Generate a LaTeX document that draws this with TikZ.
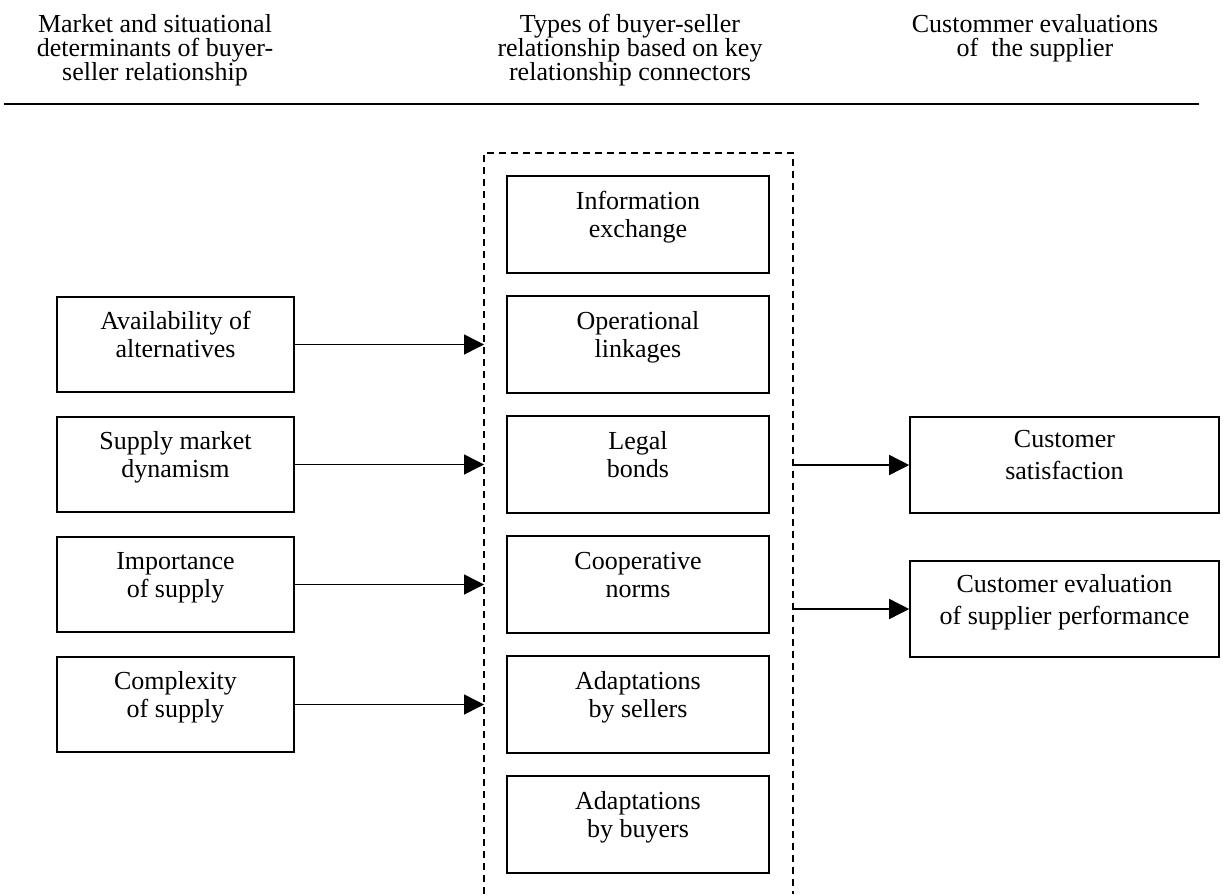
\documentclass[tikz,border=0pt]{standalone}
\usepackage{fontspec}
\setmainfont{Liberation Serif}
\usetikzlibrary{arrows.meta}
\newcommand{\topstrut}{\rule{0pt}{10pt}}
\newcommand{\botstrut}{\rule[-10pt]{0pt}{0pt}}
\begin{document}
\begin{tikzpicture}[x=0.5pt,y=-0.5pt,
  box/.style={draw, line width=0.8pt, inner sep=0pt, align=center, font=\fontsize{13}{14}\selectfont,
    execute at begin node=\topstrut, execute at end node=\botstrut},
  lbox/.style={box, minimum width=118.5pt, minimum height=47.5pt},
  mbox/.style={box, minimum width=131pt, minimum height=48.5pt},
  rbox/.style={box, minimum width=154.5pt, minimum height=48pt, font=\fontsize{13}{16}\selectfont},
  head/.style={anchor=north, inner sep=0pt, align=center, font=\fontsize{13}{12}\selectfont},
  arr/.style={line width=0.75pt, -{Triangle[length=10pt,width=10pt]}},
  dashbox/.style={line width=0.6pt, dash pattern=on 3.5pt off 2.5pt}]
\useasboundingbox (0,0) rectangle (1225,894);
% headers
\node[head] (h1) at (155,14) {Market and situational\\determinants of buyer-\\seller relationship};
\node[head] (h2) at (630,14) {Types of buyer-seller\\relationship based on key\\relationship connectors};
\node[head] (h3) at (1035,14) {Custommer evaluations\\of~ the supplier};
\draw[line width=1pt] (4,104) -- (1199,104);
% dashed container
\draw[dashbox] (484,894) -- (484,153) -- (793,153) -- (793,894);
\coordinate (dl) at (484,0);
\coordinate (dr) at (793,0);
% middle boxes
\node[mbox] (m1) at (638,224.5) {Information\\exchange};
\node[mbox] (m2) at (638,344.5) {Operational\\linkages};
\node[mbox] (m3) at (638,464.5) {Legal\\bonds};
\node[mbox] (m4) at (638,584.5) {Cooperative\\norms};
\node[mbox] (m5) at (638,704.5) {Adaptations\\by sellers};
\node[mbox] (m6) at (638,824.5) {Adaptations\\by buyers};
% left boxes
\node[lbox] (l1) at (175.5,344.5) {Availability of\\alternatives};
\node[lbox] (l2) at (175.5,464.5) {Supply market\\dynamism};
\node[lbox] (l3) at (175.5,584.5) {Importance\\of supply};
\node[lbox] (l4) at (175.5,704.5) {Complexity\\of supply};
% right boxes
\node[rbox] (r1) at (1064.5,465) {Customer\\satisfaction};
\node[rbox] (r2) at (1064.5,609) {Customer evaluation\\of supplier performance};
% arrows
\foreach \n in {l1,l2,l3,l4} \draw[arr] (\n.east) -- (\n.east -| dl);
\foreach \n in {r1,r2} \draw[arr] (\n.west -| dr) -- (\n.west);
\end{tikzpicture}
\end{document}
